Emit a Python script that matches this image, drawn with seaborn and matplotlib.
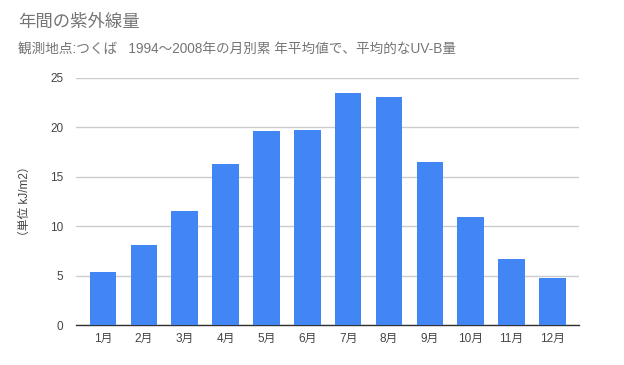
import matplotlib
matplotlib.use("Agg")
import matplotlib.pyplot as plt
import seaborn as sns
import pandas as pd

months = ["1月", "2月", "3月", "4月", "5月", "6月", "7月", "8月", "9月", "10月", "11月", "12月"]
uvb = [5.4, 8.1, 11.5, 16.3, 19.65, 19.75, 23.5, 23.1, 16.5, 10.9, 6.65, 4.75]
yticks = [0, 5, 10, 15, 20, 25]

sns.set_theme(style="white")
plt.rcParams['font.family'] = ['Liberation Sans', 'Noto Sans CJK JP']

df = pd.DataFrame({"month": months, "uvb": uvb})

fig = plt.figure(figsize=(6.24, 3.65), dpi=100)
ax = fig.add_axes([76/624, 1-325/365, (579-76)/624, (325-78)/365])
sns.barplot(data=df, x="month", y="uvb", color="#4285F4", saturation=1, width=0.65,
            ax=ax, zorder=3, linewidth=0)

ax.set_ylim(0, 25)
ax.set_xlim(-0.66, 11.65)
ax.set_yticks(yticks)
ax.set_yticklabels([str(t) for t in yticks])
ax.grid(axis="y", color="#cccccc", linewidth=1, zorder=0)
ax.set_axisbelow(True)
for s in ["top", "right", "left"]:
    ax.spines[s].set_visible(False)
ax.spines["bottom"].set_color("#333333")
ax.spines["bottom"].set_linewidth(1)
ax.tick_params(axis="both", length=0, labelsize=8.5, colors="#444444", pad=6)
ax.tick_params(axis="y", pad=9)
ax.set_xlabel("")
ax.set_ylabel("（単位 kJ/m2）", fontsize=8.5, color="#444444", labelpad=14)

fig.text(18/624, 1-22/365, "年間の紫外線量", fontsize=12.5, color="#757575", va="center", ha="left")
fig.text(18/624, 1-50/365, "観測地点:つくば   1994～2008年の月別累 年平均値で、平均的なUV-B量",
         fontsize=9.8, color="#757575", va="center", ha="left")

fig.savefig("out.png", dpi=100, facecolor="white")
